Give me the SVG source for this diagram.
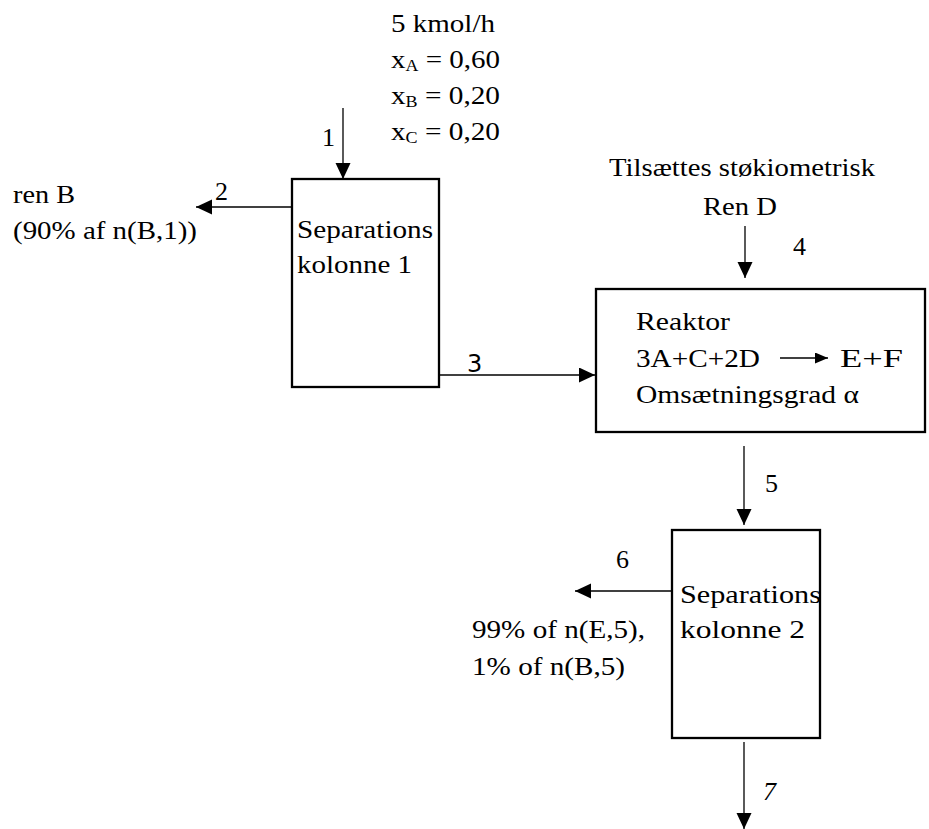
<svg xmlns="http://www.w3.org/2000/svg" width="929" height="829" viewBox="0 0 929 829">
<style>
text{font-family:"Liberation Serif","Times New Roman",serif;font-size:26px;fill:#000}
.box{fill:#fff;stroke:#000;stroke-width:2.3}
.ln{stroke:#000;stroke-width:1.3;fill:none}
.sub{font-size:16px}
.sans{font-family:"DejaVu Sans","Liberation Sans",sans-serif;font-size:24px}
</style>
<defs>
<marker id="ah" markerUnits="userSpaceOnUse" markerWidth="16" markerHeight="16" refX="16" refY="7.5" orient="auto">
<path d="M0,0 L16,7.5 L0,15 z" fill="#000"/>
</marker>
<marker id="ahs" markerUnits="userSpaceOnUse" markerWidth="14" markerHeight="12" refX="13" refY="5.5" orient="auto">
<path d="M0,0 L13,5.5 L0,11 z" fill="#000"/>
</marker>
</defs>

<g id="connectors">
<line class="ln" x1="343" y1="108" x2="343" y2="179" marker-end="url(#ah)"/>
<line class="ln" x1="292" y1="207" x2="196" y2="207" marker-end="url(#ah)"/>
<line class="ln" x1="439" y1="375" x2="595" y2="375" marker-end="url(#ah)"/>
<line class="ln" x1="745" y1="226" x2="745" y2="278" marker-end="url(#ah)"/>
<line class="ln" x1="744" y1="446" x2="744" y2="525" marker-end="url(#ah)"/>
<line class="ln" x1="672" y1="591" x2="575" y2="591" marker-end="url(#ah)"/>
<line class="ln" x1="744" y1="742" x2="744" y2="829" marker-end="url(#ah)"/>
<text x="322" y="146">1</text>
<text x="215" y="200">2</text>
<text class="sans" x="467" y="372">3</text>
<text x="793" y="255">4</text>
<text x="765" y="492">5</text>
<text x="616" y="568">6</text>
<text x="763" y="800" font-style="italic">7</text>
</g>

<g id="feed">
<text x="391" y="32" textLength="104" lengthAdjust="spacingAndGlyphs">5 kmol/h</text>
<text x="391" y="68" textLength="109" lengthAdjust="spacingAndGlyphs">x<tspan class="sub" dy="3">A</tspan><tspan dy="-3"> = 0,60</tspan></text>
<text x="391" y="104" textLength="109" lengthAdjust="spacingAndGlyphs">x<tspan class="sub" dy="3">B</tspan><tspan dy="-3"> = 0,20</tspan></text>
<text x="391" y="140" textLength="109" lengthAdjust="spacingAndGlyphs">x<tspan class="sub" dy="3">C</tspan><tspan dy="-3"> = 0,20</tspan></text>
</g>

<g id="product2">
<text x="13" y="203" textLength="62" lengthAdjust="spacingAndGlyphs">ren B</text>
<text x="13" y="239" textLength="184" lengthAdjust="spacingAndGlyphs">(90% af n(B,1))</text>
</g>

<g id="sep1">
<rect class="box" x="292" y="179" width="147" height="208"/>
<text x="297" y="238" textLength="136" lengthAdjust="spacingAndGlyphs">Separations</text>
<text x="297" y="273" textLength="115" lengthAdjust="spacingAndGlyphs">kolonne 1</text>
</g>

<g id="feedD">
<text x="609" y="176" textLength="266" lengthAdjust="spacingAndGlyphs">Tilsættes støkiometrisk</text>
<text x="703" y="215" textLength="74" lengthAdjust="spacingAndGlyphs">Ren D</text>
</g>

<g id="reaktor">
<rect class="box" x="596" y="289" width="329" height="143"/>
<text x="636" y="330" textLength="94" lengthAdjust="spacingAndGlyphs">Reaktor</text>
<text x="636" y="367" textLength="124" lengthAdjust="spacingAndGlyphs">3A+C+2D</text>
<line class="ln" x1="780" y1="358" x2="828" y2="358" marker-end="url(#ahs)"/>
<text x="840" y="367" textLength="63" lengthAdjust="spacingAndGlyphs">E+F</text>
<text x="636" y="403" textLength="223" lengthAdjust="spacingAndGlyphs">Omsætningsgrad α</text>
</g>

<g id="sep2">
<rect class="box" x="672" y="530" width="148" height="208"/>
<text x="680" y="603" textLength="141" lengthAdjust="spacingAndGlyphs">Separations</text>
<text x="680" y="638" textLength="125" lengthAdjust="spacingAndGlyphs">kolonne 2</text>
</g>

<g id="product6">
<text x="472" y="638" textLength="173" lengthAdjust="spacingAndGlyphs">99% of n(E,5),</text>
<text x="472" y="675" textLength="153" lengthAdjust="spacingAndGlyphs">1% of n(B,5)</text>
</g>
</svg>
